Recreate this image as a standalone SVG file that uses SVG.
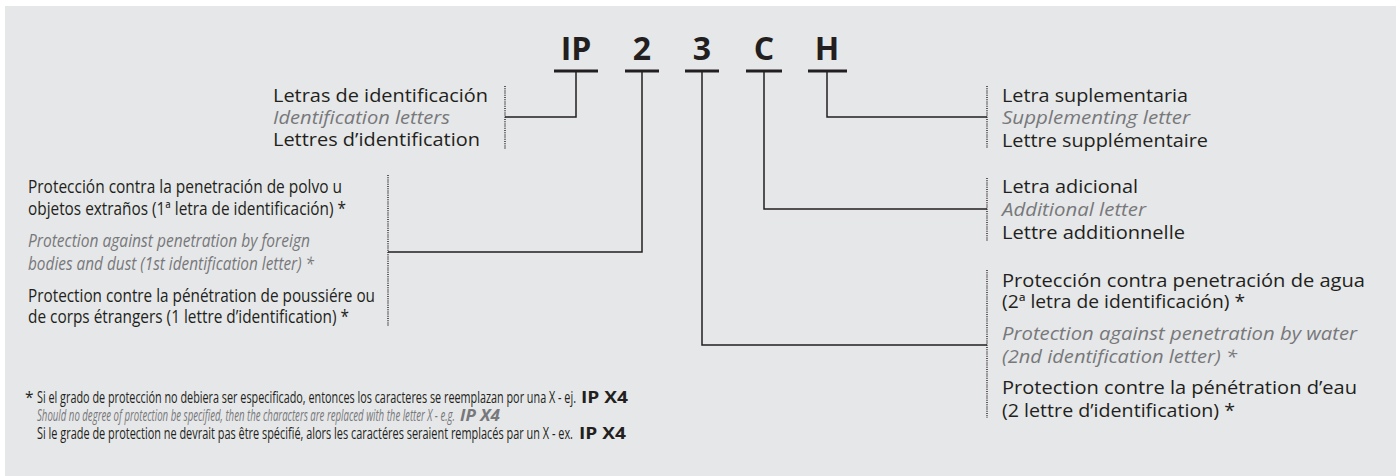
<svg xmlns="http://www.w3.org/2000/svg" width="1400" height="476" viewBox="0 0 1400 476">
<style>
.t{font-family:"Open Sans","Liberation Sans",sans-serif;font-size:18px;fill:#231f20}
.i{font-family:"Open Sans","Liberation Sans",sans-serif;font-size:18px;fill:#77787b;font-style:italic}
.big{font-family:"Open Sans","Liberation Sans",sans-serif;font-size:32px;font-weight:bold;fill:#231f20;text-anchor:middle}
.fn{font-family:"Open Sans","Liberation Sans",sans-serif;font-size:15.5px;fill:#231f20}
.fi{font-family:"Open Sans","Liberation Sans",sans-serif;font-size:15.5px;fill:#77787b;font-style:italic}
.b{font-weight:bold}
.ln{fill:none;stroke:#231f20;stroke-width:1.5}
.bar{fill:none;stroke:#231f20;stroke-width:3}
.dot{fill:none;stroke:#231f20;stroke-width:1.4;stroke-dasharray:1 1.2}
</style>
<rect x="5" y="6" width="1391" height="470" fill="#e6e7e8"/>
<g id="code">
<text class="big" x="576" y="60">IP</text>
<text class="big" x="642" y="60">2</text>
<text class="big" x="702" y="60">3</text>
<text class="big" x="764" y="60">C</text>
<text class="big" x="827" y="60">H</text>
<line class="bar" x1="554" y1="71" x2="598" y2="71"/>
<line class="bar" x1="625" y1="71" x2="659" y2="71"/>
<line class="bar" x1="685" y1="71" x2="719" y2="71"/>
<line class="bar" x1="746" y1="71" x2="782" y2="71"/>
<line class="bar" x1="808" y1="71" x2="847" y2="71"/>
</g>
<g id="connectors">
<polyline class="ln" points="576,71 576,117 505,117"/>
<polyline class="ln" points="642,71 642,252 388,252"/>
<polyline class="ln" points="702,71 702,345 987,345"/>
<polyline class="ln" points="764,71 764,209 987,209"/>
<polyline class="ln" points="827,71 827,117 987,117"/>
<line class="dot" x1="505" y1="86" x2="505" y2="149"/>
<line class="dot" x1="388" y1="175" x2="388" y2="326"/>
<line class="dot" x1="987" y1="270" x2="987" y2="418"/>
<line class="dot" x1="987" y1="178" x2="987" y2="241"/>
<line class="dot" x1="987" y1="86" x2="987" y2="148"/>
</g>
<g id="node-ip">
<text class="t" x="273" y="102" textLength="215" lengthAdjust="spacingAndGlyphs">Letras de identificación</text>
<text class="i" x="273" y="124" textLength="177" lengthAdjust="spacingAndGlyphs">Identification letters</text>
<text class="t" x="273" y="146" textLength="207" lengthAdjust="spacingAndGlyphs">Lettres d’identification</text>
</g>
<g id="node-2">
<text class="t" x="28" y="193" textLength="314" lengthAdjust="spacingAndGlyphs">Protección contra la penetración de polvo u</text>
<text class="t" x="28" y="215" textLength="318" lengthAdjust="spacingAndGlyphs">objetos extraños (1ª letra de identificación) *</text>
<text class="i" x="28" y="247" textLength="282" lengthAdjust="spacingAndGlyphs">Protection against penetration by foreign</text>
<text class="i" x="28" y="270" textLength="286" lengthAdjust="spacingAndGlyphs">bodies and dust (1st identification letter) *</text>
<text class="t" x="28" y="302" textLength="347" lengthAdjust="spacingAndGlyphs">Protection contre la pénétration de poussiére ou</text>
<text class="t" x="28" y="323" textLength="321" lengthAdjust="spacingAndGlyphs">de corps étrangers (1 lettre d’identification) *</text>
</g>
<g id="node-h">
<text class="t" x="1002" y="102" textLength="186" lengthAdjust="spacingAndGlyphs">Letra suplementaria</text>
<text class="i" x="1002" y="124" textLength="188" lengthAdjust="spacingAndGlyphs">Supplementing letter</text>
<text class="t" x="1002" y="147" textLength="206" lengthAdjust="spacingAndGlyphs">Lettre supplémentaire</text>
</g>
<g id="node-c">
<text class="t" x="1002" y="193" textLength="136" lengthAdjust="spacingAndGlyphs">Letra adicional</text>
<text class="i" x="1002" y="216" textLength="144" lengthAdjust="spacingAndGlyphs">Additional letter</text>
<text class="t" x="1002" y="239" textLength="183" lengthAdjust="spacingAndGlyphs">Lettre additionnelle</text>
</g>
<g id="node-3">
<text class="t" x="1002" y="287" textLength="363" lengthAdjust="spacingAndGlyphs">Protección contra penetración de agua</text>
<text class="t" x="1002" y="308" textLength="243" lengthAdjust="spacingAndGlyphs">(2ª letra de identificación) *</text>
<text class="i" x="1002" y="340" textLength="355" lengthAdjust="spacingAndGlyphs">Protection against penetration by water</text>
<text class="i" x="1002" y="363" textLength="235" lengthAdjust="spacingAndGlyphs">(2nd identification letter) *</text>
<text class="t" x="1002" y="394" textLength="355" lengthAdjust="spacingAndGlyphs">Protection contre la pénétration d’eau</text>
<text class="t" x="1002" y="417" textLength="233" lengthAdjust="spacingAndGlyphs">(2 lettre d’identification) *</text>
</g>
<g id="footnote">
<text class="fn" x="25" y="403" font-size="17">*</text>
<text class="fn" x="37" y="403" textLength="539" lengthAdjust="spacingAndGlyphs">Si el grado de protección no debiera ser especificado, entonces los caracteres se reemplazan por una X - ej.</text>
<text class="fn b" x="581" y="403" textLength="47" lengthAdjust="spacingAndGlyphs">IP X4</text>
<text class="fi" x="37" y="421" textLength="418" lengthAdjust="spacingAndGlyphs">Should no degree of protection be specified, then the characters are replaced with the letter X - e.g.</text>
<text class="fi b" x="460" y="421" textLength="40" lengthAdjust="spacingAndGlyphs">IP X4</text>
<text class="fn" x="37" y="439" textLength="536" lengthAdjust="spacingAndGlyphs">Si le grade de protection ne devrait pas être spécifié, alors les caractéres seraient remplacés par un X - ex.</text>
<text class="fn b" x="579" y="439" textLength="47" lengthAdjust="spacingAndGlyphs">IP X4</text>
</g>
</svg>
